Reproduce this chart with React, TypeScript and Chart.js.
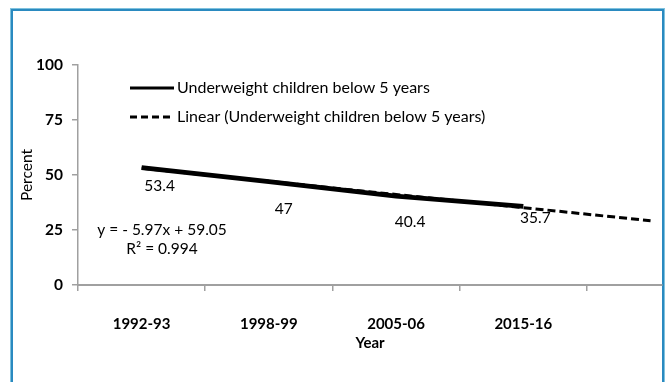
import React, { useEffect, useRef } from "react";
import { Chart, registerables } from "chart.js";

Chart.register(...registerables);

const categories = ["1992-93", "1998-99", "2005-06", "2015-16"];
const underweight = [53.4, 47, 40.4, 35.7];
const trendValues = [53.08, 47.11, 41.14, 35.17, 29.2];
const yTicks = [0, 25, 50, 75, 100];
const seriesName = "Underweight children below 5 years";
const trendName = "Linear (Underweight children below 5 years)";
const equationLines = ["y = - 5.97x + 59.05", "R² = 0.994"];
// label placement (pixel nudges, as in the source figure)
const labelOffsets = [
  [18, 18],
  [15, 27],
  [14, 26],
  [12, 12],
];

const FONT = 'Lato, "Open Sans", "DejaVu Sans", sans-serif';
const AXIS_GRAY = "#a0a0a0";

const overlayPlugin = {
  id: "overlay",
  afterDatasetsDraw(chart: any) {
    const ctx = chart.ctx;
    const area = chart.chartArea;
    ctx.save();
    // data labels
    const meta = chart.getDatasetMeta(0);
    ctx.fillStyle = "#000";
    ctx.font = `15.5px ${FONT}`;
    ctx.textAlign = "center";
    ctx.textBaseline = "middle";
    meta.data.forEach((pt: any, i: number) => {
      const off = labelOffsets[i] || [0, 20];
      ctx.fillText(String(underweight[i]), pt.x + off[0], pt.y + off[1]);
    });

    // legend
    const lx0 = area.left + 52;
    const lx1 = area.left + 96;
    const ly = [area.top + 23, area.top + 52];
    ctx.strokeStyle = "#000";
    ctx.lineWidth = 3;
    ctx.setLineDash([]);
    ctx.beginPath();
    ctx.moveTo(lx0, ly[0]);
    ctx.lineTo(lx1, ly[0]);
    ctx.stroke();
    ctx.lineWidth = 2.8;
    ctx.setLineDash([7, 4]);
    ctx.beginPath();
    ctx.moveTo(lx0, ly[1]);
    ctx.lineTo(lx1, ly[1]);
    ctx.stroke();
    ctx.setLineDash([]);
    ctx.font = `16px ${FONT}`;
    ctx.textAlign = "left";
    ctx.fillText(seriesName, lx1 + 3, ly[0]);
    ctx.fillText(trendName, lx1 + 3, ly[1]);

    // trendline equation
    ctx.font = `15.5px ${FONT}`;
    ctx.textAlign = "center";
    ctx.fillText(equationLines[0], area.left + 84, area.top + 165);
    ctx.fillText(equationLines[1], area.left + 84, area.top + 184);
    ctx.restore();
  },
};

export default function App() {
  const canvasRef = useRef<HTMLCanvasElement | null>(null);

  useEffect(() => {
    if (!canvasRef.current) return;
    const chart = new Chart(canvasRef.current, {
      type: "line",
      data: {
        datasets: [
          {
            label: seriesName,
            data: underweight.map((v, i) => ({ x: i + 1, y: v })),
            borderColor: "#000",
            backgroundColor: "#000",
            borderWidth: 4.8,
            pointRadius: 0,
            tension: 0,
            order: 1,
          },
          {
            label: trendName,
            data: trendValues.map((v, i) => ({ x: i + 1, y: v })),
            borderColor: "#000",
            borderWidth: 3,
            borderDash: [8, 4],
            pointRadius: 0,
            tension: 0,
            order: 0,
          },
        ],
      },
      options: {
        responsive: false,
        animation: false,
        devicePixelRatio: 1,
        layout: { padding: { top: 65, right: 3, left: 0, bottom: 0 } },
        plugins: {
          legend: { display: false },
          tooltip: { enabled: false },
        },
        scales: {
          x: {
            type: "linear",
            min: 0.5,
            max: 5.09,
            afterBuildTicks: (scale: any) => {
              const t = [];
              for (let v = 0.5; v <= 5.0001; v += 0.5) t.push({ value: v });
              scale.ticks = t;
            },
            afterFit: (scale: any) => {
              scale.height = 97;
              scale.paddingLeft = 0;
              scale.paddingRight = 0;
            },
            ticks: {
              autoSkip: false,
              maxRotation: 0,
              padding: 24,
              color: "#000",
              font: { family: FONT, size: 15, weight: "bold" },
              callback: (v: any) => {
                const n = Number(v);
                return Number.isInteger(n) && categories[n - 1] ? categories[n - 1] : "";
              },
            },
            grid: {
              drawOnChartArea: false,
              tickLength: 6,
              color: AXIS_GRAY,
              tickColor: (c: any) =>
                c.tick && Number.isInteger(c.tick.value) ? "rgba(0,0,0,0)" : AXIS_GRAY,
              lineWidth: 1.5,
            },
            border: { display: true, color: AXIS_GRAY, width: 2 },
            title: {
              display: true,
              text: "Year",
              color: "#000",
              font: { family: FONT, size: 15, weight: "bold" },
              padding: { top: 0, bottom: 30 },
            },
          },
          y: {
            min: 0,
            max: 100,
            afterBuildTicks: (scale: any) => {
              scale.ticks = yTicks.map((v) => ({ value: v }));
            },
            afterFit: (scale: any) => {
              scale.width = 78;
            },
            ticks: {
              padding: 9,
              color: "#000",
              font: { family: FONT, size: 15.5, weight: "bold" },
            },
            grid: {
              drawOnChartArea: false,
              tickLength: 6,
              color: AXIS_GRAY,
              lineWidth: 1.5,
            },
            border: { display: true, color: AXIS_GRAY, width: 1.5 },
            title: {
              display: true,
              text: "Percent",
              color: "#000",
              font: { family: FONT, size: 15.5 },
              padding: { top: 18, bottom: 0 },
            },
          },
        },
      },
      plugins: [overlayPlugin],
    });
    return () => chart.destroy();
  }, []);

  return (
    <div>
      <div
        style={{
          position: "fixed",
          left: 11,
          top: 9,
          width: 649,
          height: 420,
          border: "2px solid #2a8ac0",
          boxShadow: "0 0 0 1px #80c2de",
          background: "#fff",
        }}
      />
      <canvas
        ref={canvasRef}
        width={665}
        height={382}
        style={{ position: "fixed", left: 0, top: 0, width: 665, height: 382 }}
      />
    </div>
  );
}
